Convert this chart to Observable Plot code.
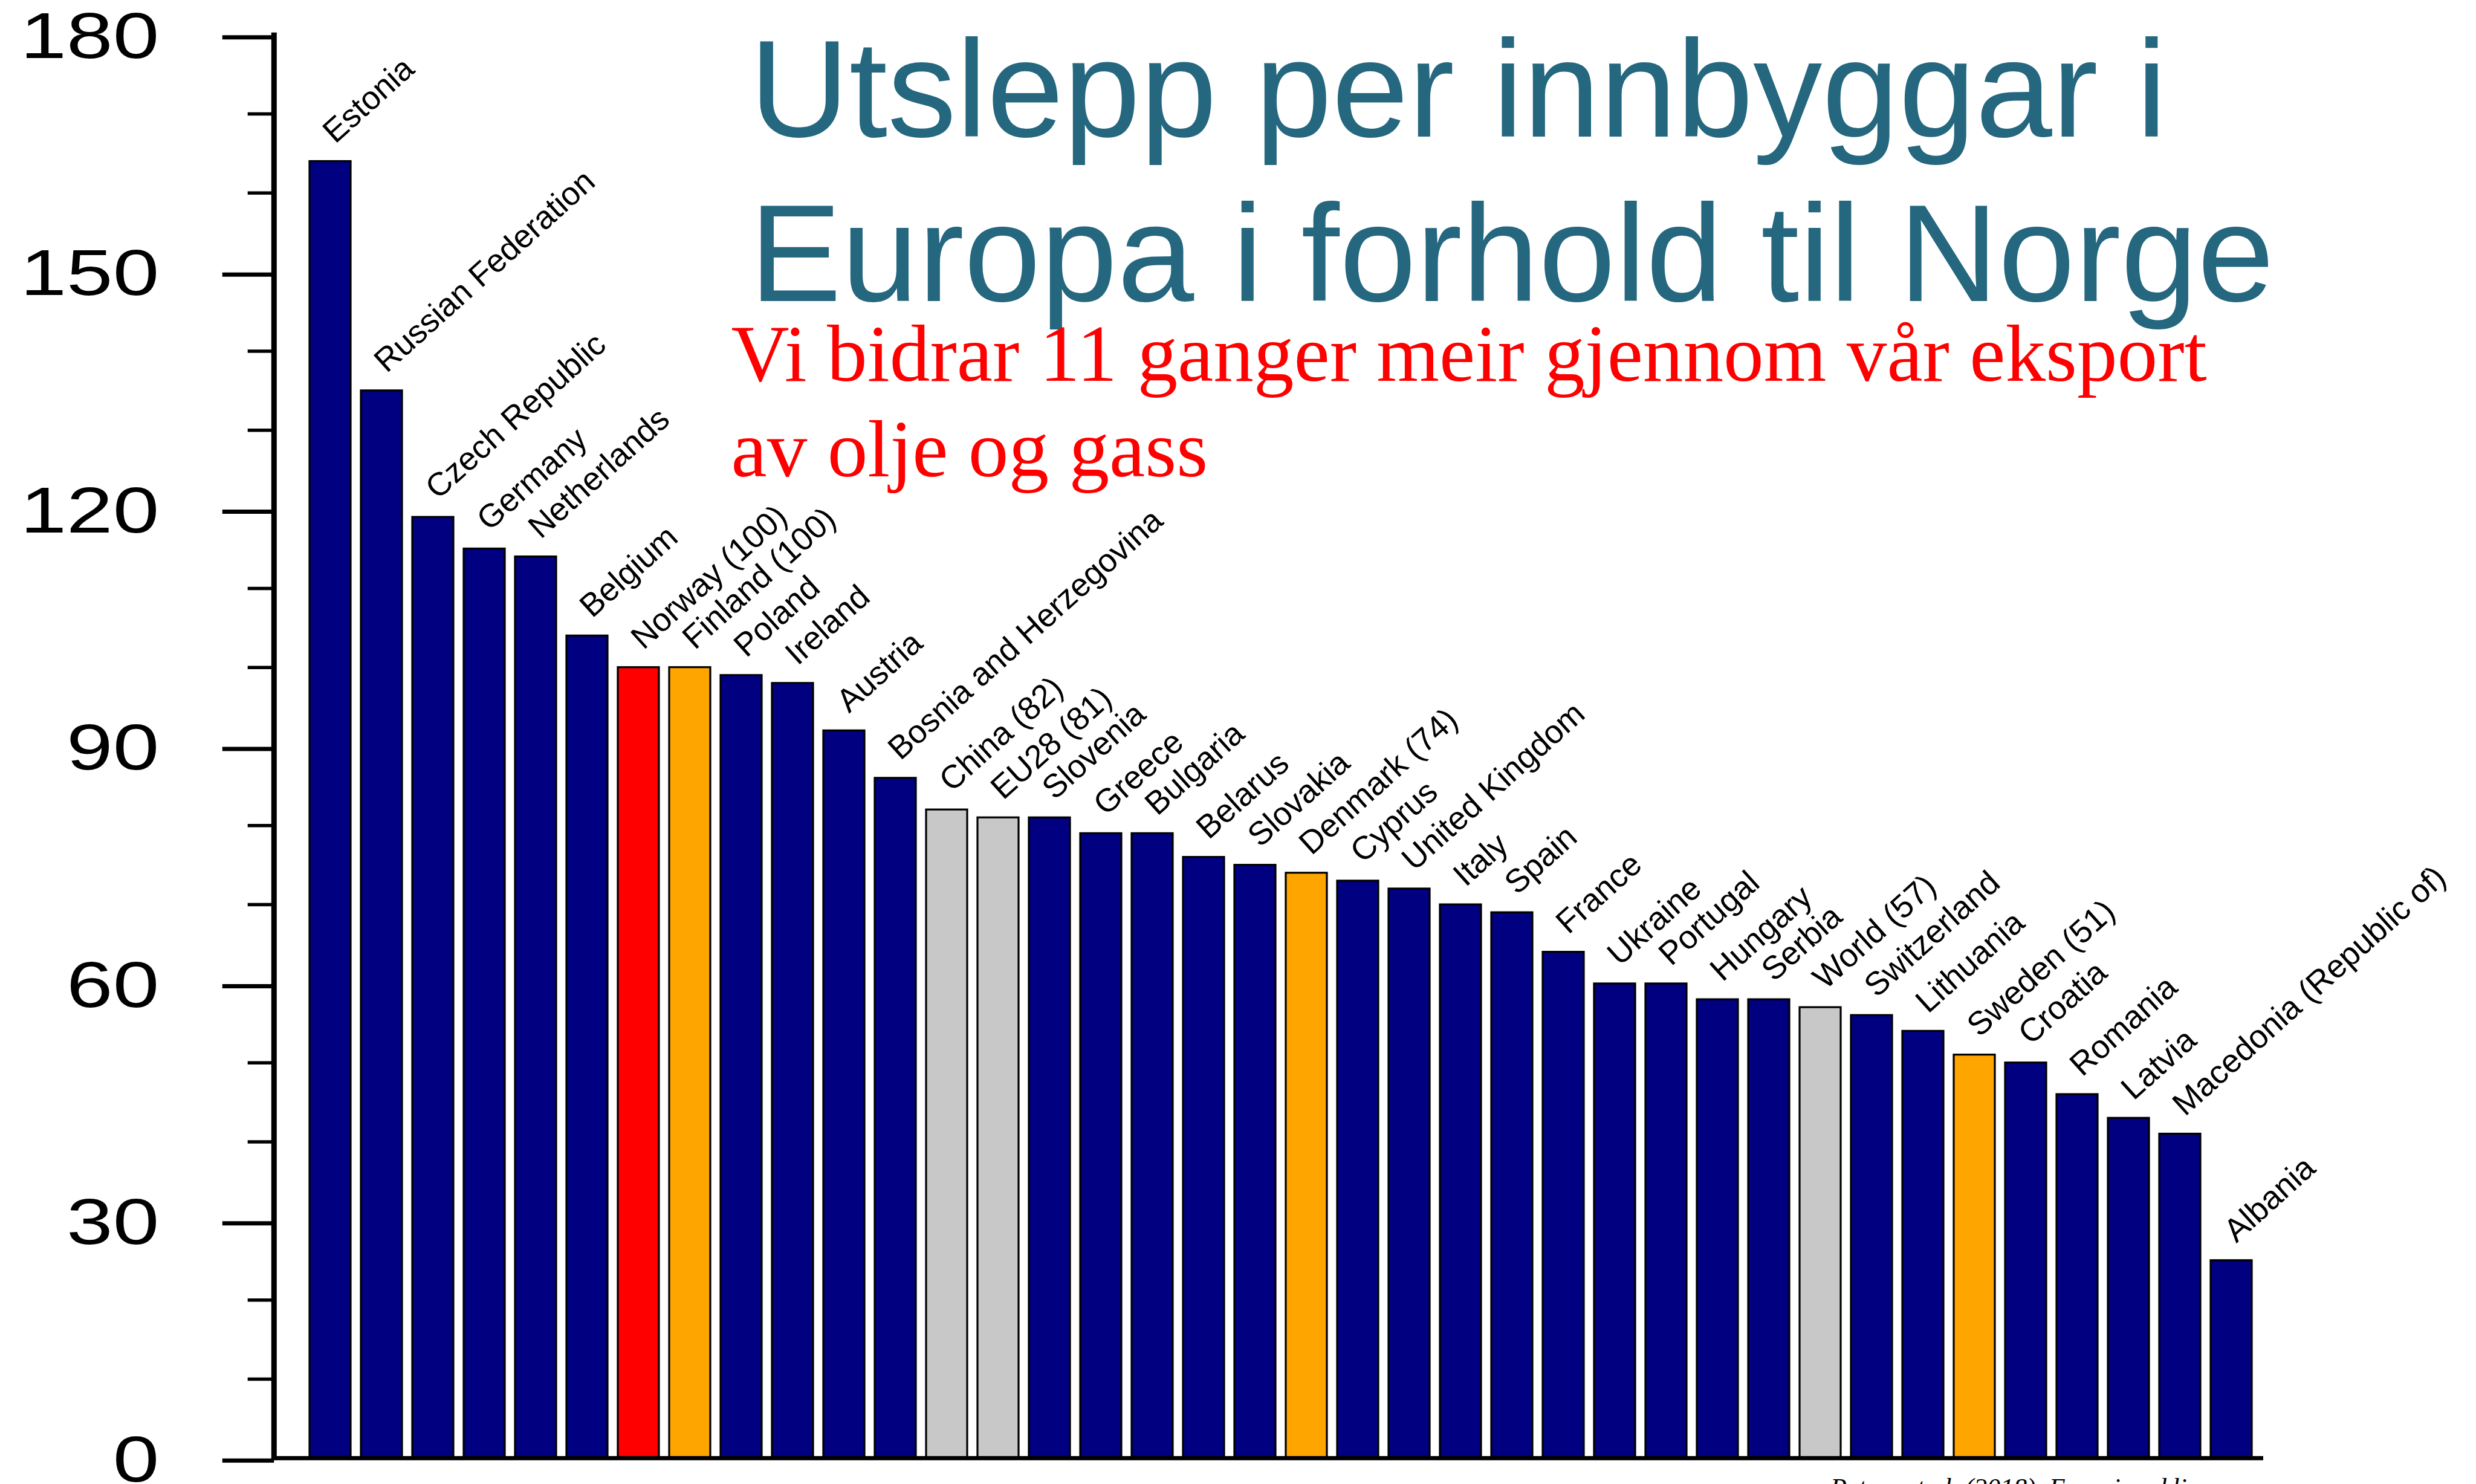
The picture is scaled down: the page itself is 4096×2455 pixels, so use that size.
<!DOCTYPE html>
<html><head><meta charset="utf-8">
<script src="https://cdn.jsdelivr.net/npm/d3@7"></script>
<script src="https://cdn.jsdelivr.net/npm/@observablehq/plot@0.6"></script>
<style>
html,body{margin:0;padding:0;background:#fff;overflow:hidden}
#wrap{position:relative;width:4096px;height:2455px;overflow:hidden;background:#fff}
#wrap svg{position:absolute;left:0;top:0}
</style></head><body><div id="wrap"></div>
<script>
const countries = ["Estonia","Russian Federation","Czech Republic","Germany","Netherlands","Belgium","Norway (100)","Finland (100)","Poland","Ireland","Austria","Bosnia and Herzegovina","China (82)","EU28 (81)","Slovenia","Greece","Bulgaria","Belarus","Slovakia","Denmark (74)","Cyprus","United Kingdom","Italy","Spain","France","Ukraine","Portugal","Hungary","Serbia","World (57)","Switzerland","Lithuania","Sweden (51)","Croatia","Romania","Latvia","Macedonia (Republic of)","Albania"];
const values = [164,135,119,115,114,104,100,100,99,98,92,86,82,81,81,79,79,76,75,74,73,72,70,69,64,60,60,58,58,57,56,54,51,50,46,43,41,25];
const groups = ["other","other","other","other","other","other","norway","nordic","other","other","other","other","aggregate","aggregate","other","other","other","other","other","nordic","other","other","other","other","other","other","other","other","other","aggregate","other","other","nordic","other","other","other","other","other"];
const yTicks = [0,30,60,90,120,150,180];
const yMinorTicks = [10,20,40,50,70,80,100,110,130,140,160,170];
const titleLines = ["Utslepp per innbyggar i","Europa i forhold til Norge"];
const subtitleLines = ["Vi bidrar 11 ganger meir gjennom vår eksport","av olje og gass"];
const caption = "Peters et al. (2018). Energi og klima";

const data = countries.map((name, i) => ({name, value: values[i], group: groups[i]}));
const W = 4096, H = 2455;
const sans = "'Liberation Sans', Arial, Helvetica, sans-serif";
const serif = "'Liberation Serif', 'Times New Roman', serif";

const axisLine = (index, scales, vals, dims) => {
  const y = scales.y;
  return d3.create("svg:line")
    .attr("x1", dims.marginLeft).attr("x2", dims.marginLeft)
    .attr("y1", y(0) + 3.5).attr("y2", y(180) - 3.5)
    .attr("stroke", "#000").attr("stroke-width", 9).node();
};

const chart = Plot.plot({
  width: W, height: H,
  marginLeft: 453.3, marginRight: 352, marginTop: 57, marginBottom: 43,
  x: {domain: countries, range: [496.4, 3739.8], paddingInner: 0.2, paddingOuter: 0.1, axis: null},
  y: {domain: [0, 180], range: [2411.8, 57.2]},
  color: {domain: ["other","norway","nordic","aggregate"], range: ["#000080","#ff0000","#ffa500","#c8c8c8"]},
  marks: [
    Plot.barY(data, {x: "name", y: "value", fill: "group", stroke: "#000", strokeWidth: 3.2}),
    Plot.ruleY([0], {stroke: "#000", strokeWidth: 7}),
    Plot.axisY(yMinorTicks, {tickSize: 43.6, tickFormat: () => "", strokeWidth: 5.5, label: null}),
    Plot.axisY(yTicks, {tickSize: 85.5, tickPadding: 105, fontSize: 107, fontFamily: sans, fill: "#000", strokeWidth: 7, dy: 4, tickFormat: d => String(d), label: null}),
    axisLine,
    Plot.text(data, {x: "name", y: "value", text: "name", rotate: -42, textAnchor: "start", lineAnchor: "bottom", dx: 8, dy: -28, fontSize: 54, fontFamily: sans, fill: "#000"})
  ]
});
chart.style.background = "#fff";
const wrap = document.getElementById("wrap");
wrap.appendChild(chart);

// stretch y tick labels horizontally like the reference
d3.select(chart).selectAll("text").each(function() {
  const t = this.textContent;
  if (/^\d+$/.test(t) && this.closest("g[aria-label='y-axis tick label']")) {
    this.setAttribute("textLength", t.length * 76.6);
    this.setAttribute("lengthAdjust", "spacingAndGlyphs");
  }
});

const ov = d3.select(wrap).append("svg").attr("width", W).attr("height", H);
ov.selectAll("text.title").data(titleLines).join("text").attr("class", "title")
  .attr("x", 1240).attr("y", (d, i) => 226 + i * 272)
  .attr("font-family", sans).attr("font-size", 228).attr("fill", "#24677f").text(d => d);
ov.selectAll("text.sub").data(subtitleLines).join("text").attr("class", "sub")
  .attr("x", 1209.5).attr("y", (d, i) => 630 + i * 158)
  .attr("font-family", serif).attr("font-size", 133.3).attr("fill", "#ff0000").text(d => d);
ov.append("text").attr("x", 3028).attr("y", 2476)
  .attr("font-family", serif).attr("font-style", "italic").attr("font-size", 44).attr("fill", "#000").text(caption);
</script></body></html>
